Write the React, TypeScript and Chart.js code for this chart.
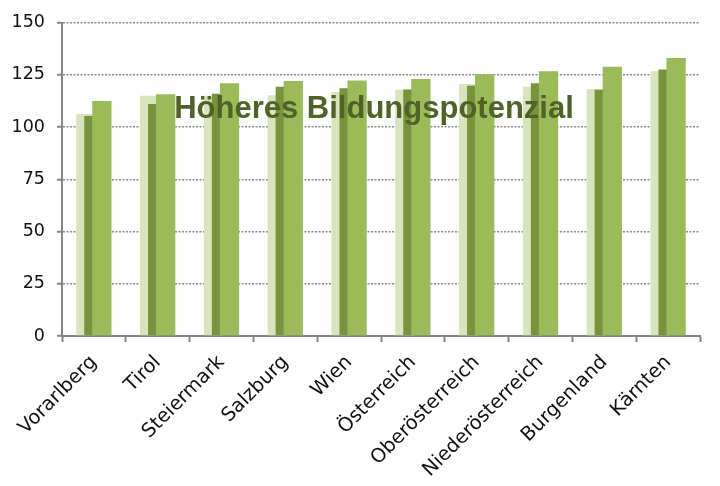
import React, { useEffect, useRef } from "react";
import { Chart, registerables } from "chart.js";

Chart.register(...registerables);

const categories = [
  "Vorarlberg",
  "Tirol",
  "Steiermark",
  "Salzburg",
  "Wien",
  "Österreich",
  "Oberösterreich",
  "Niederösterreich",
  "Burgenland",
  "Kärnten",
];
const seriesLight = [106.2, 114.9, 114.9, 115.2, 116.7, 117.8, 120.6, 119.3, 118.2, 126.7];
const seriesDark = [105.3, 111.0, 115.9, 119.3, 118.6, 117.9, 119.7, 120.9, 117.8, 127.5];
const seriesMedium = [112.5, 115.7, 120.9, 122.0, 122.2, 123.0, 125.2, 126.7, 128.8, 133.0];
const yMin = 0;
const yMax = 150;
const yStep = 25;
const titleText = "Höheres Bildungspotenzial";

// Draw datasets left-to-right so the rightmost bar of each group lies on top
const backToFront = {
  id: "backToFront",
  beforeDatasetsDraw(chart: any) {
    const metas = chart.getSortedVisibleDatasetMetas();
    const ctx = chart.ctx;
    const a = chart.chartArea;
    ctx.save();
    ctx.beginPath();
    ctx.rect(a.left, a.top - 2, a.right - a.left, a.bottom - a.top + 2);
    ctx.clip();
    for (const m of metas) m.controller.draw();
    ctx.restore();
    return false;
  },
};

const xTickFont = { family: "'DejaVu Sans', sans-serif", size: 19.5 };
const yTickFont = { family: "'DejaVu Sans', sans-serif", size: 17.5 };

export default function App() {
  const canvasRef = useRef<HTMLCanvasElement | null>(null);

  useEffect(() => {
    document.body.style.margin = "0";
    const canvas = canvasRef.current;
    if (!canvas) return;
    const common = {
      borderWidth: 0,
      categoryPercentage: 0.376,
      barPercentage: 2.41,
    };
    const chart = new Chart(canvas, {
      type: "bar",
      data: {
        labels: categories,
        datasets: [
          { label: "Reihe 1", data: seriesLight, backgroundColor: "#d7e4bd", ...common },
          { label: "Reihe 2", data: seriesDark, backgroundColor: "#77933c", ...common },
          { label: "Reihe 3", data: seriesMedium, backgroundColor: "#9bbb59", ...common },
        ],
      },
      plugins: [backToFront],
      options: {
        animation: false,
        responsive: false,
        maintainAspectRatio: false,
        layout: { padding: { top: 17, right: 20, left: 0, bottom: 0 } },
        plugins: {
          legend: { display: false },
          title: { display: false },
          tooltip: { enabled: false },
        },
        scales: {
          x: {
            grid: {
              display: true,
              offset: true,
              drawOnChartArea: false,
              drawTicks: true,
              tickLength: 6,
              tickColor: "#868686",
              tickWidth: 2,
            },
            border: { display: true, color: "#868686", width: 2 },
            ticks: {
              autoSkip: false,
              maxRotation: 45,
              minRotation: 45,
              color: "#111",
              font: xTickFont,
              padding: 9,
            },
            afterFit(scale: any) {
              scale.height = 150;
            },
          },
          y: {
            min: yMin,
            max: yMax,
            grid: {
              display: true,
              color: "#8c8c8c",
              lineWidth: 1.5,
              drawTicks: true,
              tickLength: 5,
              tickColor: "#868686",
              tickWidth: 2,
              tickBorderDash: [],
            },
            border: { display: true, color: "#868686", width: 2, dash: [2, 1.5] },
            ticks: {
              stepSize: yStep,
              color: "#111",
              font: yTickFont,
              padding: 12,
            },
            afterFit(scale: any) {
              scale.width = 62;
            },
          },
        },
      },
    });
    return () => chart.destroy();
  }, []);

  return (
    <div style={{ position: "relative", width: 720, height: 486, background: "#fff" }}>
      <canvas ref={canvasRef} width={720} height={486} style={{ display: "block" }} />
      <div
        style={{
          position: "absolute",
          left: 374,
          top: 123,
          transform: "translate(-50%, -100%)",
          fontFamily: "'Liberation Sans', Arial, sans-serif",
          fontWeight: "bold",
          fontSize: 31,
          lineHeight: "31px",
          color: "#4f6228",
          whiteSpace: "nowrap",
          pointerEvents: "none",
        }}
      >
        {titleText}
      </div>
    </div>
  );
}
